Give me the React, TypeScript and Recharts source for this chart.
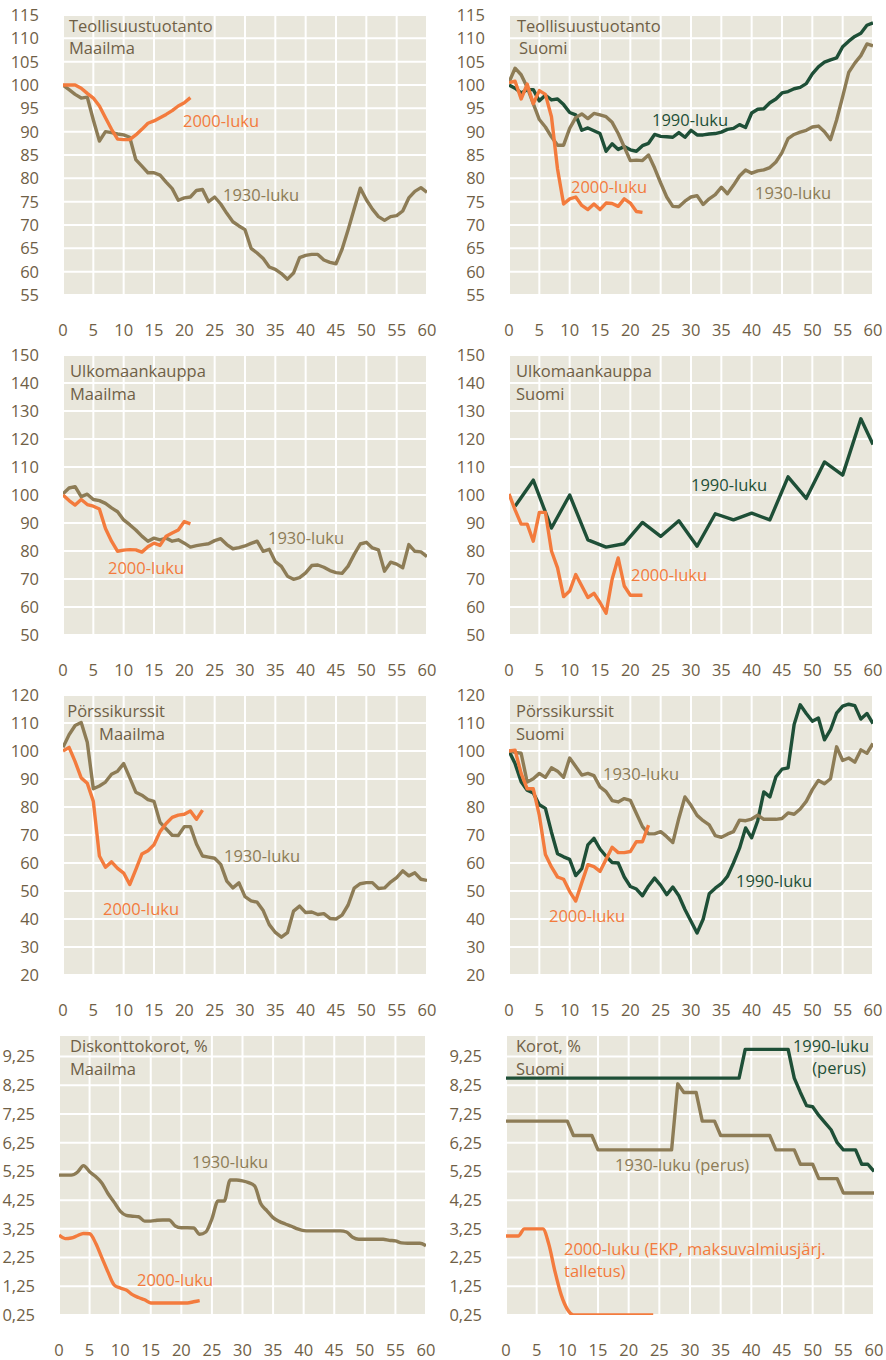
import React from "react";
import { LineChart, Line, XAxis, YAxis, CartesianGrid } from "recharts";

const FONT = '"Open Sans", sans-serif';
const KHAKI = "#8D7C56";
const GREEN = "#1E4F37";
const ORANGE = "#F37B3D";
const BG = "#E9E7DC";
const TEXT = "#6F6046";
const FS = 16.5;

// kuukaudet kriisin alusta
const xTicks = [0, 5, 10, 15, 20, 25, 30, 35, 40, 45, 50, 55, 60];
const ticksInd = [55, 60, 65, 70, 75, 80, 85, 90, 95, 100, 105, 110, 115];
const ticksTrade = [50, 60, 70, 80, 90, 100, 110, 120, 130, 140, 150];
const ticksStock = [20, 30, 40, 50, 60, 70, 80, 90, 100, 110, 120];
const ticksRate = [0.25, 1.25, 2.25, 3.25, 4.25, 5.25, 6.25, 7.25, 8.25, 9.25];

// Teollisuustuotanto, Maailma
const indWorld1930 = [100, 99, 98, 97.2, 97.4, 92.5, 88, 90, 89.8, 89.5, 89.3, 88.8, 84, 82.6, 81.2, 81.2, 80.7, 79.2, 77.8, 75.3, 75.8, 76, 77.4, 77.6, 75, 76, 74.5, 72.5, 70.7, 69.8, 69, 65, 64, 62.8, 61, 60.5, 59.6, 58.4, 59.7, 63, 63.5, 63.7, 63.7, 62.5, 62, 61.7, 64.8, 69, 73.5, 77.9, 75.4, 73.4, 71.8, 71, 71.8, 72, 73, 75.8, 77.2, 78, 77];
const indWorld2000 = [100, 100, 100, 99.3, 98.2, 97.2, 95.5, 93, 90.5, 88.4, 88.3, 88.3, 89.3, 90.5, 91.8, 92.3, 93, 93.7, 94.5, 95.5, 96.2, 97.3];

// Teollisuustuotanto, Suomi
const indFi1930 = [100.6, 103.6, 102.2, 99.5, 96, 92.6, 91, 88.9, 87.1, 87.1, 90.7, 93, 93.8, 92.8, 93.9, 93.6, 93.2, 92, 89.6, 86.7, 83.8, 83.9, 83.8, 85, 82.2, 79, 76, 74, 73.9, 75.1, 76, 76.3, 74.4, 75.6, 76.5, 78.1, 76.7, 78.5, 80.5, 81.8, 81.1, 81.6, 81.8, 82.3, 83.5, 85.5, 88.5, 89.4, 89.9, 90.3, 91, 91.2, 90, 88.3, 92.5, 97.5, 102.7, 104.7, 106.3, 108.8, 108.4];
const indFi1990 = [100, 99.3, 98.3, 99, 99, 96.6, 97.8, 96.8, 97, 95.8, 94.1, 93.6, 90.3, 90.8, 90.2, 89.6, 85.8, 87.4, 86.2, 86.8, 86.1, 85.8, 87, 87.5, 89.4, 89, 88.9, 88.8, 89.8, 88.8, 90.3, 89.3, 89.3, 89.5, 89.6, 89.9, 90.5, 90.7, 91.5, 90.9, 94, 94.8, 94.9, 96.2, 97, 98.3, 98.6, 99.2, 99.5, 100.3, 102.4, 103.9, 104.9, 105.4, 105.8, 108.2, 109.4, 110.4, 111.1, 112.8, 113.3];
const indFi2000 = [100.5, 100.8, 97, 100.2, 96, 98.8, 98, 93.2, 82, 74.5, 75.6, 76, 74.2, 73.3, 74.5, 73.3, 74.7, 74.6, 74, 75.6, 74.7, 72.9, 72.7];

// Ulkomaankauppa, Maailma
const tradeWorld1930 = [100.4, 102.5, 103, 99.4, 100.3, 98.4, 98, 97, 95.4, 94, 91.1, 89.4, 87.5, 85.3, 83.5, 84.6, 84, 84.6, 83.5, 84, 82.8, 81.4, 81.9, 82.3, 82.6, 83.7, 84.4, 82.3, 80.8, 81.2, 81.8, 82.7, 83.5, 79.9, 80.6, 76.2, 74.5, 71, 69.9, 70.5, 72.2, 74.8, 75, 74.2, 73, 72.3, 72, 74.6, 78.8, 82.5, 83.1, 81.1, 80.4, 72.8, 76, 75.3, 74, 82.3, 79.9, 79.7, 78];
const tradeWorld2000 = [100, 98, 96.4, 98.4, 96.6, 96, 95, 88, 83.5, 79.9, 80.3, 80.5, 80.4, 79.6, 81.5, 82.8, 82, 85.3, 86.4, 87.5, 90.5, 89.7];

// Ulkomaankauppa, Suomi (1990-luku neljännesvuosittain)
const tradeFi1990Months = [1, 4, 7, 10, 13, 16, 19, 22, 25, 28, 31, 34, 37, 40, 43, 46, 49, 52, 55, 58, 60];
const tradeFi1990 = [96, 105.3, 88.2, 100, 84, 81.4, 82.6, 90.2, 85.2, 90.8, 81.7, 93.3, 91.1, 93.5, 91.1, 106.5, 98.8, 111.8, 107.1, 127.2, 118];
const tradeFi2000 = [100.4, 94.7, 89.6, 89.6, 83.5, 93.8, 93.8, 80, 74, 63.7, 65.7, 71.6, 67.5, 63.4, 64.9, 61.6, 57.8, 69.9, 77.5, 67.5, 64.2, 64.2, 64.2];

// Pörssikurssit, Maailma
const stockWorld1930 = [101.3, 105.8, 109.1, 110.2, 103.1, 86.5, 87.5, 88.9, 91.7, 92.8, 95.5, 90.5, 85.3, 84.2, 82.6, 82, 74.5, 72.2, 69.9, 69.8, 73, 73, 66.8, 62.5, 62.1, 61.7, 59.5, 53.5, 51.1, 52.9, 48, 46.5, 46, 43, 38, 35.2, 33.5, 35.1, 42.8, 44.6, 42.3, 42.5, 41.6, 41.9, 40.2, 40, 41.4, 45, 51, 52.6, 53, 53, 50.9, 51.1, 53.2, 54.8, 57.2, 55.4, 56.5, 54.2, 53.8];
const stockWorld2000 = [100, 101.3, 96.2, 90.4, 88.5, 82, 62.5, 58.5, 60.4, 58.1, 56.4, 52.3, 57.6, 63.2, 64.4, 66.5, 71.2, 74.1, 76.3, 77.1, 77.4, 78.6, 75.6, 78.9];

// Pörssikurssit, Suomi
const stockFi1930 = [100, 99.5, 99.2, 88.9, 90.1, 92, 90.6, 94, 92.8, 90.6, 97.5, 94.5, 91.4, 92, 91.2, 87.2, 85.5, 82.3, 81.8, 83, 82.4, 77.7, 73, 70.4, 70.4, 71.2, 69.4, 67.3, 76, 83.6, 80.6, 77, 75.1, 73.6, 69.8, 69.2, 70.3, 71.2, 75.3, 75.1, 75.7, 77.1, 75.6, 75.6, 75.6, 75.9, 77.9, 77.4, 79.3, 82, 86.2, 89.5, 88.3, 90.1, 101.5, 96.6, 97.5, 96, 100.4, 99.2, 102.7];
const stockFi1990 = [100, 95.5, 89, 86, 85, 80.8, 79.5, 71, 63.3, 62.2, 61.3, 55.5, 58, 66.5, 68.8, 65, 62.4, 60.2, 60, 55, 51.6, 50.7, 48.3, 51.8, 54.6, 52, 48.7, 51.4, 48.3, 43.4, 39.2, 35, 39.9, 49, 51, 52.6, 55.2, 60, 65.3, 72.5, 69, 75.1, 85.4, 83.6, 90.8, 93.5, 94, 109.5, 116.5, 113.4, 110.6, 111.8, 104, 107.6, 113.5, 116, 116.7, 116.2, 111.4, 113.4, 109.8];
const stockFi2000 = [100, 100.3, 92, 86.5, 86.5, 77, 63, 58.6, 55, 54.2, 49.8, 46.4, 53, 59.4, 58.7, 57, 61.3, 65.6, 63.7, 63.7, 64.1, 67.6, 67.6, 73.5];

// Diskonttokorot, %, Maailma
const rateWorld1930 = [5.12, 5.12, 5.12, 5.22, 5.45, 5.24, 5.07, 4.85, 4.48, 4.18, 3.87, 3.72, 3.69, 3.67, 3.52, 3.52, 3.55, 3.56, 3.56, 3.35, 3.29, 3.29, 3.28, 3.06, 3.14, 3.6, 4.22, 4.22, 4.95, 4.95, 4.92, 4.86, 4.74, 4.12, 3.88, 3.64, 3.51, 3.42, 3.34, 3.25, 3.19, 3.18, 3.18, 3.18, 3.18, 3.18, 3.18, 3.14, 2.96, 2.89, 2.89, 2.89, 2.89, 2.89, 2.85, 2.83, 2.76, 2.75, 2.75, 2.75, 2.66];
const rateWorld2000 = [3.03, 2.91, 2.93, 3.01, 3.09, 3.08, 2.75, 2.25, 1.75, 1.3, 1.19, 1.12, 0.96, 0.86, 0.78, 0.67, 0.67, 0.67, 0.67, 0.67, 0.67, 0.67, 0.71, 0.75];

// Korot, %, Suomi
const rateFi1930 = [7, 7, 7, 7, 7, 7, 7, 7, 7, 7, 7, 6.5, 6.5, 6.5, 6.5, 6, 6, 6, 6, 6, 6, 6, 6, 6, 6, 6, 6, 6, 8.3, 8, 8, 8, 7, 7, 7, 6.5, 6.5, 6.5, 6.5, 6.5, 6.5, 6.5, 6.5, 6.5, 6, 6, 6, 6, 5.5, 5.5, 5.5, 5, 5, 5, 5, 4.5, 4.5, 4.5, 4.5, 4.5, 4.5];
const rateFi1990 = [8.5, 8.5, 8.5, 8.5, 8.5, 8.5, 8.5, 8.5, 8.5, 8.5, 8.5, 8.5, 8.5, 8.5, 8.5, 8.5, 8.5, 8.5, 8.5, 8.5, 8.5, 8.5, 8.5, 8.5, 8.5, 8.5, 8.5, 8.5, 8.5, 8.5, 8.5, 8.5, 8.5, 8.5, 8.5, 8.5, 8.5, 8.5, 8.5, 9.5, 9.5, 9.5, 9.5, 9.5, 9.5, 9.5, 9.5, 8.5, 8, 7.54, 7.5, 7.2, 6.95, 6.7, 6.25, 6, 6, 6, 5.5, 5.5, 5.25];
const rateFi2000 = [3, 3, 3, 3.25, 3.25, 3.25, 3.25, 2.7, 1.75, 0.95, 0.45, 0.25, 0.25, 0.25, 0.25, 0.25, 0.25, 0.25, 0.25, 0.25, 0.25, 0.25, 0.25, 0.25, 0.25];

type Pt = { x: number; v: number };
const monthly = (vals: number[]): Pt[] => vals.map((v, i) => ({ x: i, v }));
const withMonths = (months: number[], vals: number[]): Pt[] => vals.map((v, i) => ({ x: months[i], v }));

type Series = { data: Pt[]; color: string; smooth?: boolean };
type Note = { text: string; x: number; y: number; color: string; right?: boolean };

interface PanelProps {
    left: number;
    top: number;
    axisWidth: number;
    rightMargin: number;
    domain: [number, number];
    ticks: number[];
    decimals?: boolean;
    series: Series[];
    notes: Note[];
}

function Panel({ left, top, axisWidth, rightMargin, domain, ticks, decimals, series, notes }: PanelProps) {
    const tickStyle = { fill: TEXT, fontSize: FS, fontFamily: FONT };
    return (
        <div style={{ position: "absolute", left, top, width: 443, height: 340 }}>
            <LineChart width={443} height={340} margin={{ top: 15, right: rightMargin, bottom: 0, left: 0 }}>
                <CartesianGrid fill={BG} fillOpacity={1} stroke="#FFFFFF" strokeWidth={2} />
                <XAxis
                    type="number"
                    dataKey="x"
                    domain={[0, 60]}
                    ticks={xTicks}
                    interval={0}
                    allowDataOverflow
                    axisLine={false}
                    tickLine={false}
                    tickSize={0}
                    tickMargin={29}
                    height={45}
                    tick={tickStyle}
                />
                <YAxis
                    type="number"
                    domain={domain}
                    ticks={ticks}
                    interval={0}
                    allowDataOverflow
                    axisLine={false}
                    tickLine={false}
                    tickSize={0}
                    tickMargin={24}
                    width={axisWidth}
                    tick={tickStyle}
                    tickFormatter={(v: number) => (decimals ? v.toFixed(2).replace(".", ",") : String(v))}
                />
                {series.map((s, i) => (
                    <Line
                        key={i}
                        data={s.data}
                        dataKey="v"
                        type={s.smooth ? "monotone" : "linear"}
                        stroke={s.color}
                        strokeWidth={3.4}
                        strokeLinejoin="round"
                        dot={false}
                        activeDot={false}
                        isAnimationActive={false}
                    />
                ))}
            </LineChart>
            {notes.map((n, i) => (
                <div
                    key={i}
                    style={{
                        position: "absolute",
                        top: n.y - 11,
                        ...(n.right ? { right: 443 - n.x } : { left: n.x }),
                        lineHeight: "22px",
                        fontSize: FS,
                        fontFamily: FONT,
                        color: n.color,
                        whiteSpace: "nowrap",
                    }}
                >
                    {n.text}
                </div>
            ))}
        </div>
    );
}

export default function App() {
    return (
        <div style={{ position: "absolute", left: 0, top: 0, width: 886, height: 1360, background: "#FFFFFF" }}>
            <Panel
                left={0}
                top={0}
                axisWidth={63}
                rightMargin={16}
                domain={[55, 115]}
                ticks={ticksInd}
                series={[
                    { data: monthly(indWorld1930), color: KHAKI },
                    { data: monthly(indWorld2000), color: ORANGE },
                ]}
                notes={[
                    { text: "Teollisuustuotanto", x: 69, y: 26, color: TEXT },
                    { text: "Maailma", x: 69, y: 48, color: TEXT },
                    { text: "2000-luku", x: 183, y: 121, color: ORANGE },
                    { text: "1930-luku", x: 223, y: 195, color: KHAKI },
                ]}
            />
            <Panel
                left={443}
                top={0}
                axisWidth={66}
                rightMargin={13}
                domain={[55, 115]}
                ticks={ticksInd}
                series={[
                    { data: monthly(indFi1990), color: GREEN },
                    { data: monthly(indFi1930), color: KHAKI },
                    { data: monthly(indFi2000), color: ORANGE },
                ]}
                notes={[
                    { text: "Teollisuustuotanto", x: 74, y: 26, color: TEXT },
                    { text: "Suomi", x: 76, y: 48, color: TEXT },
                    { text: "1990-luku", x: 209, y: 120, color: GREEN },
                    { text: "2000-luku", x: 128, y: 187, color: ORANGE },
                    { text: "1930-luku", x: 312, y: 193, color: KHAKI },
                ]}
            />
            <Panel
                left={0}
                top={340}
                axisWidth={63}
                rightMargin={16}
                domain={[50, 150]}
                ticks={ticksTrade}
                series={[
                    { data: monthly(tradeWorld1930), color: KHAKI },
                    { data: monthly(tradeWorld2000), color: ORANGE },
                ]}
                notes={[
                    { text: "Ulkomaankauppa", x: 70, y: 31, color: TEXT },
                    { text: "Maailma", x: 70, y: 54, color: TEXT },
                    { text: "1930-luku", x: 268, y: 198, color: KHAKI },
                    { text: "2000-luku", x: 108, y: 228, color: ORANGE },
                ]}
            />
            <Panel
                left={443}
                top={340}
                axisWidth={66}
                rightMargin={13}
                domain={[50, 150]}
                ticks={ticksTrade}
                series={[
                    { data: withMonths(tradeFi1990Months, tradeFi1990), color: GREEN },
                    { data: monthly(tradeFi2000), color: ORANGE },
                ]}
                notes={[
                    { text: "Ulkomaankauppa", x: 73, y: 31, color: TEXT },
                    { text: "Suomi", x: 73, y: 54, color: TEXT },
                    { text: "1990-luku", x: 248, y: 145, color: GREEN },
                    { text: "2000-luku", x: 188, y: 235, color: ORANGE },
                ]}
            />
            <Panel
                left={0}
                top={680}
                axisWidth={63}
                rightMargin={16}
                domain={[20, 120]}
                ticks={ticksStock}
                series={[
                    { data: monthly(stockWorld1930), color: KHAKI },
                    { data: monthly(stockWorld2000), color: ORANGE },
                ]}
                notes={[
                    { text: "Pörssikurssit", x: 165, y: 31, color: TEXT, right: true },
                    { text: "Maailma", x: 165, y: 54, color: TEXT, right: true },
                    { text: "1930-luku", x: 224, y: 176, color: KHAKI },
                    { text: "2000-luku", x: 103, y: 229, color: ORANGE },
                ]}
            />
            <Panel
                left={443}
                top={680}
                axisWidth={66}
                rightMargin={13}
                domain={[20, 120]}
                ticks={ticksStock}
                series={[
                    { data: monthly(stockFi1990), color: GREEN },
                    { data: monthly(stockFi1930), color: KHAKI },
                    { data: monthly(stockFi2000), color: ORANGE },
                ]}
                notes={[
                    { text: "Pörssikurssit", x: 73, y: 31, color: TEXT },
                    { text: "Suomi", x: 73, y: 54, color: TEXT },
                    { text: "1930-luku", x: 160, y: 94, color: KHAKI },
                    { text: "1990-luku", x: 293, y: 201, color: GREEN },
                    { text: "2000-luku", x: 106, y: 236, color: ORANGE },
                ]}
            />
            <Panel
                left={0}
                top={1020}
                axisWidth={59}
                rightMargin={17}
                domain={[0.25, 10]}
                ticks={ticksRate}
                decimals
                series={[
                    { data: monthly(rateWorld1930), color: KHAKI, smooth: true },
                    { data: monthly(rateWorld2000), color: ORANGE, smooth: true },
                ]}
                notes={[
                    { text: "Diskonttokorot, %", x: 70, y: 26, color: TEXT },
                    { text: "Maailma", x: 70, y: 49, color: TEXT },
                    { text: "1930-luku", x: 192, y: 142, color: KHAKI },
                    { text: "2000-luku", x: 137, y: 260, color: ORANGE },
                ]}
            />
            <Panel
                left={443}
                top={1020}
                axisWidth={63}
                rightMargin={12}
                domain={[0.25, 10]}
                ticks={ticksRate}
                decimals
                series={[
                    { data: monthly(rateFi1990), color: GREEN },
                    { data: monthly(rateFi1930), color: KHAKI },
                    { data: monthly(rateFi2000), color: ORANGE, smooth: true },
                ]}
                notes={[
                    { text: "Korot, %", x: 73, y: 26, color: TEXT },
                    { text: "Suomi", x: 73, y: 49, color: TEXT },
                    { text: "1990-luku", x: 426, y: 26, color: GREEN, right: true },
                    { text: "(perus)", x: 423, y: 48, color: GREEN, right: true },
                    { text: "1930-luku (perus)", x: 172, y: 145, color: KHAKI },
                    { text: "2000-luku (EKP, maksuvalmiusjärj.", x: 121, y: 229, color: ORANGE },
                    { text: "talletus)", x: 121, y: 251, color: ORANGE },
                ]}
            />
        </div>
    );
}
